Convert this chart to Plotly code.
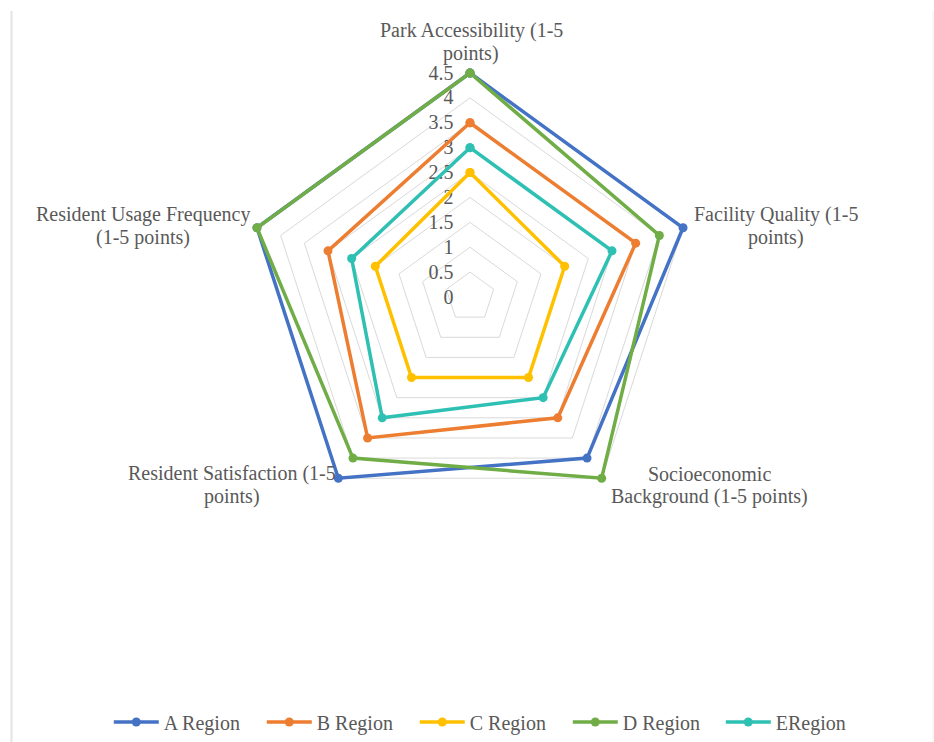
import plotly.graph_objects as go

# Radar chart of park evaluation scores by region
categories = [
    "Park Accessibility (1-5<br>points)",
    "Facility Quality (1-5<br>points)",
    "Socioeconomic<br>Background (1-5 points)",
    "Resident Satisfaction (1-5<br>points)",
    "Resident Usage Frequency<br>(1-5 points)",
]
series_names = ["A Region", "B Region", "C Region", "D Region", "ERegion"]
a_region = [4.5, 4.5, 4.0, 4.5, 4.5]
b_region = [3.5, 3.5, 3.0, 3.5, 3.0]
c_region = [2.5, 2.0, 2.0, 2.0, 2.0]
d_region = [4.5, 4.0, 4.5, 4.0, 4.5]
e_region = [3.0, 3.0, 2.5, 3.0, 2.5]
radial_ticks = [0, 0.5, 1, 1.5, 2, 2.5, 3, 3.5, 4, 4.5]
colors = ["#4472C4", "#ED7D31", "#FFC000", "#70AD47", "#2EC0B3"]

W, H = 934, 742
FONT = "Liberation Serif"
GRAY = "#595959"
FS = 20

fig = go.Figure()
for name, vals, col in zip(series_names,
                           [a_region, b_region, c_region, d_region, e_region],
                           colors):
    fig.add_trace(go.Scatterpolar(
        r=vals + vals[:1],
        theta=categories + categories[:1],
        mode="lines+markers",
        name=name,
        line=dict(color=col, width=3.5),
        marker=dict(color=col, size=9),
        cliponaxis=False,
    ))

# polar area: centre (470, 297) px; 4.5 sits 224 px from the centre,
# the axis runs a little past it so outer lines are not clipped
cx, cy, r_top, r_max = 470, 297, 224, 4.6
R = r_top * r_max / radial_ticks[-1]
fig.update_layout(
    width=W, height=H,
    margin=dict(l=0, r=0, t=0, b=0),
    paper_bgcolor="white",
    plot_bgcolor="white",
    font=dict(family=FONT, color=GRAY, size=FS),
    polar=dict(
        domain=dict(x=[(cx - R) / W, (cx + R) / W],
                    y=[(H - cy - R) / H, (H - cy + R) / H]),
        gridshape="linear",
        bgcolor="rgba(0,0,0,0)",
        radialaxis=dict(
            range=[0, r_max],
            tickvals=radial_ticks,
            ticktext=[f"{v:g}" for v in radial_ticks],
            angle=90,
            side="counterclockwise",
            tickangle=90,
            showline=False,
            ticks="outside",
            ticklen=9,
            tickcolor="rgba(0,0,0,0)",
            gridcolor="#D9D9D9",
            gridwidth=1,
            tickfont=dict(family=FONT, size=FS, color=GRAY),
            layer="below traces",
        ),
        angularaxis=dict(
            categoryorder="array",
            categoryarray=categories,
            direction="clockwise",
            rotation=90,
            showgrid=False,
            showticklabels=False,
            ticks="",
            showline=False,
            layer="below traces",
        ),
    ),
    legend=dict(
        orientation="h",
        x=0.526, xanchor="center",
        y=1 - 722 / H, yanchor="middle",
        font=dict(family=FONT, size=FS, color=GRAY),
        itemwidth=45,
        entrywidth=93,
        entrywidthmode="pixels",
    ),
    showlegend=True,
)

# category labels around the chart, one line of text per annotation
label_pos = [(471, 42), (776, 226), (709, 485), (232, 485), (143, 226)]
line_step = 23
for text, (px, py) in zip(categories, label_pos):
    lines = text.split("<br>")
    n = len(lines)
    for k, line in enumerate(lines):
        ly = py + (k - (n - 1) / 2) * line_step
        fig.add_annotation(
            x=px / W, y=1 - ly / H, xref="paper", yref="paper",
            text=line, showarrow=False, align="center",
            xanchor="center", yanchor="middle",
            font=dict(family=FONT, size=FS, color=GRAY),
        )

# chart area frame edges
fig.add_shape(type="line", xref="paper", yref="paper",
              x0=11.5 / W, x1=11.5 / W, y0=0, y1=1 - 11 / H,
              line=dict(color="#E3E3E3", width=2))
fig.add_shape(type="line", xref="paper", yref="paper",
              x0=933 / W, x1=933 / W, y0=0, y1=1 - 11 / H,
              line=dict(color="#F0F0F0", width=1))

fig.write_html("out.html")
